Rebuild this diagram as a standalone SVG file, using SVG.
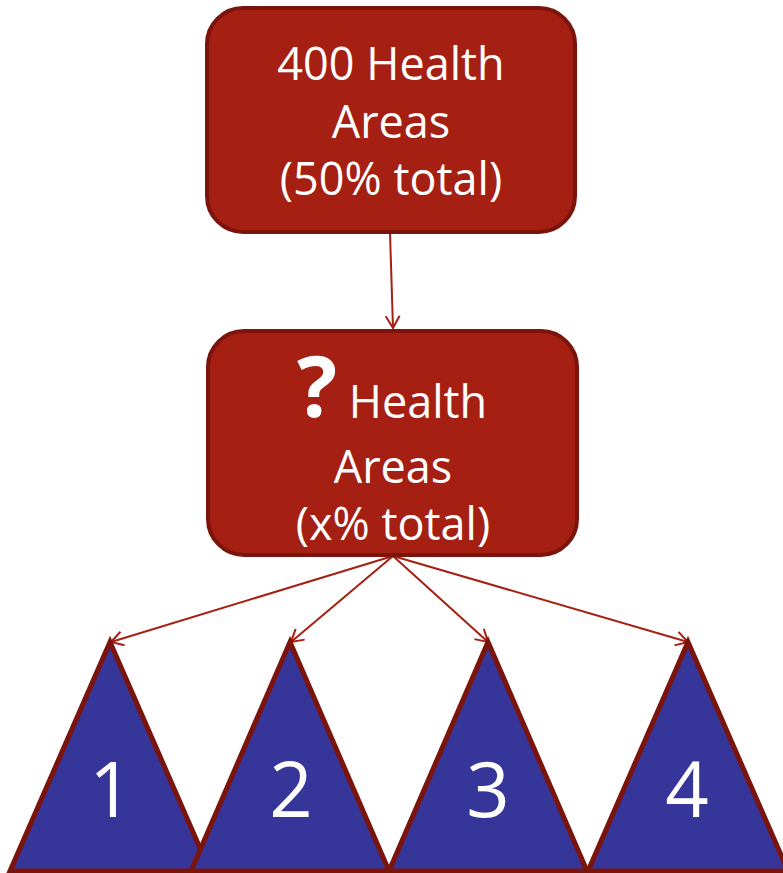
<svg xmlns="http://www.w3.org/2000/svg" width="783" height="873" viewBox="0 0 783 873">
<style>
.box{fill:#a51f12;stroke:#7a140c;stroke-width:4}
.tri{fill:#35359a;stroke:#7a140c;stroke-width:5;stroke-linejoin:miter}
.t{fill:#fff;font-family:"Open Sans","Noto Sans",sans-serif;font-size:45px;text-anchor:middle}
.n{fill:#fff;font-family:"Open Sans","Noto Sans",sans-serif;font-size:76px;text-anchor:middle}
.c{stroke:#a51f12;stroke-width:2;fill:none;marker-end:url(#ah)}
</style>
<defs>
<marker id="ah" markerWidth="16" markerHeight="16" refX="13" refY="8" orient="auto" markerUnits="userSpaceOnUse">
<path d="M1,1 L13,8 L1,15" fill="none" stroke="#a51f12" stroke-width="2"/>
</marker>
</defs>
<g id="connectors">
<line class="c" x1="390" y1="233" x2="393" y2="328"/>
<line class="c" x1="393" y1="556" x2="111" y2="642"/>
<line class="c" x1="393" y1="556" x2="291" y2="642"/>
<line class="c" x1="393" y1="556" x2="488" y2="642"/>
<line class="c" x1="393" y1="556" x2="688" y2="642"/>
</g>
<g id="node-top">
<rect class="box" x="207" y="8" width="368" height="224" rx="36"/>
<text class="t" x="391" y="80">400 Health</text>
<text class="t" x="391" y="138">Areas</text>
<text class="t" x="391" y="195">(50% total)</text>
</g>
<g id="node-mid">
<rect class="box" x="208" y="331" width="369" height="224" rx="36"/>
<text x="317" y="417" fill="#fff" font-family="'Open Sans','Noto Sans',sans-serif" font-size="84" font-weight="bold" text-anchor="middle">?</text>
<text class="t" x="418" y="418">Health</text>
<text class="t" x="393" y="483">Areas</text>
<text class="t" x="393" y="540">(x% total)</text>
</g>
<g id="tri-1">
<polygon class="tri" points="110,642 210,871 10,871"/>
<text class="n" x="111" y="817">1</text>
</g>
<g id="tri-2">
<polygon class="tri" points="290,642 389,871 191,871"/>
<text class="n" x="291" y="817">2</text>
</g>
<g id="tri-3">
<polygon class="tri" points="488,642 587,871 389,871"/>
<text class="n" x="488" y="817">3</text>
</g>
<g id="tri-4">
<polygon class="tri" points="688,642 788,871 588,871"/>
<text class="n" x="687" y="817">4</text>
</g>
</svg>
